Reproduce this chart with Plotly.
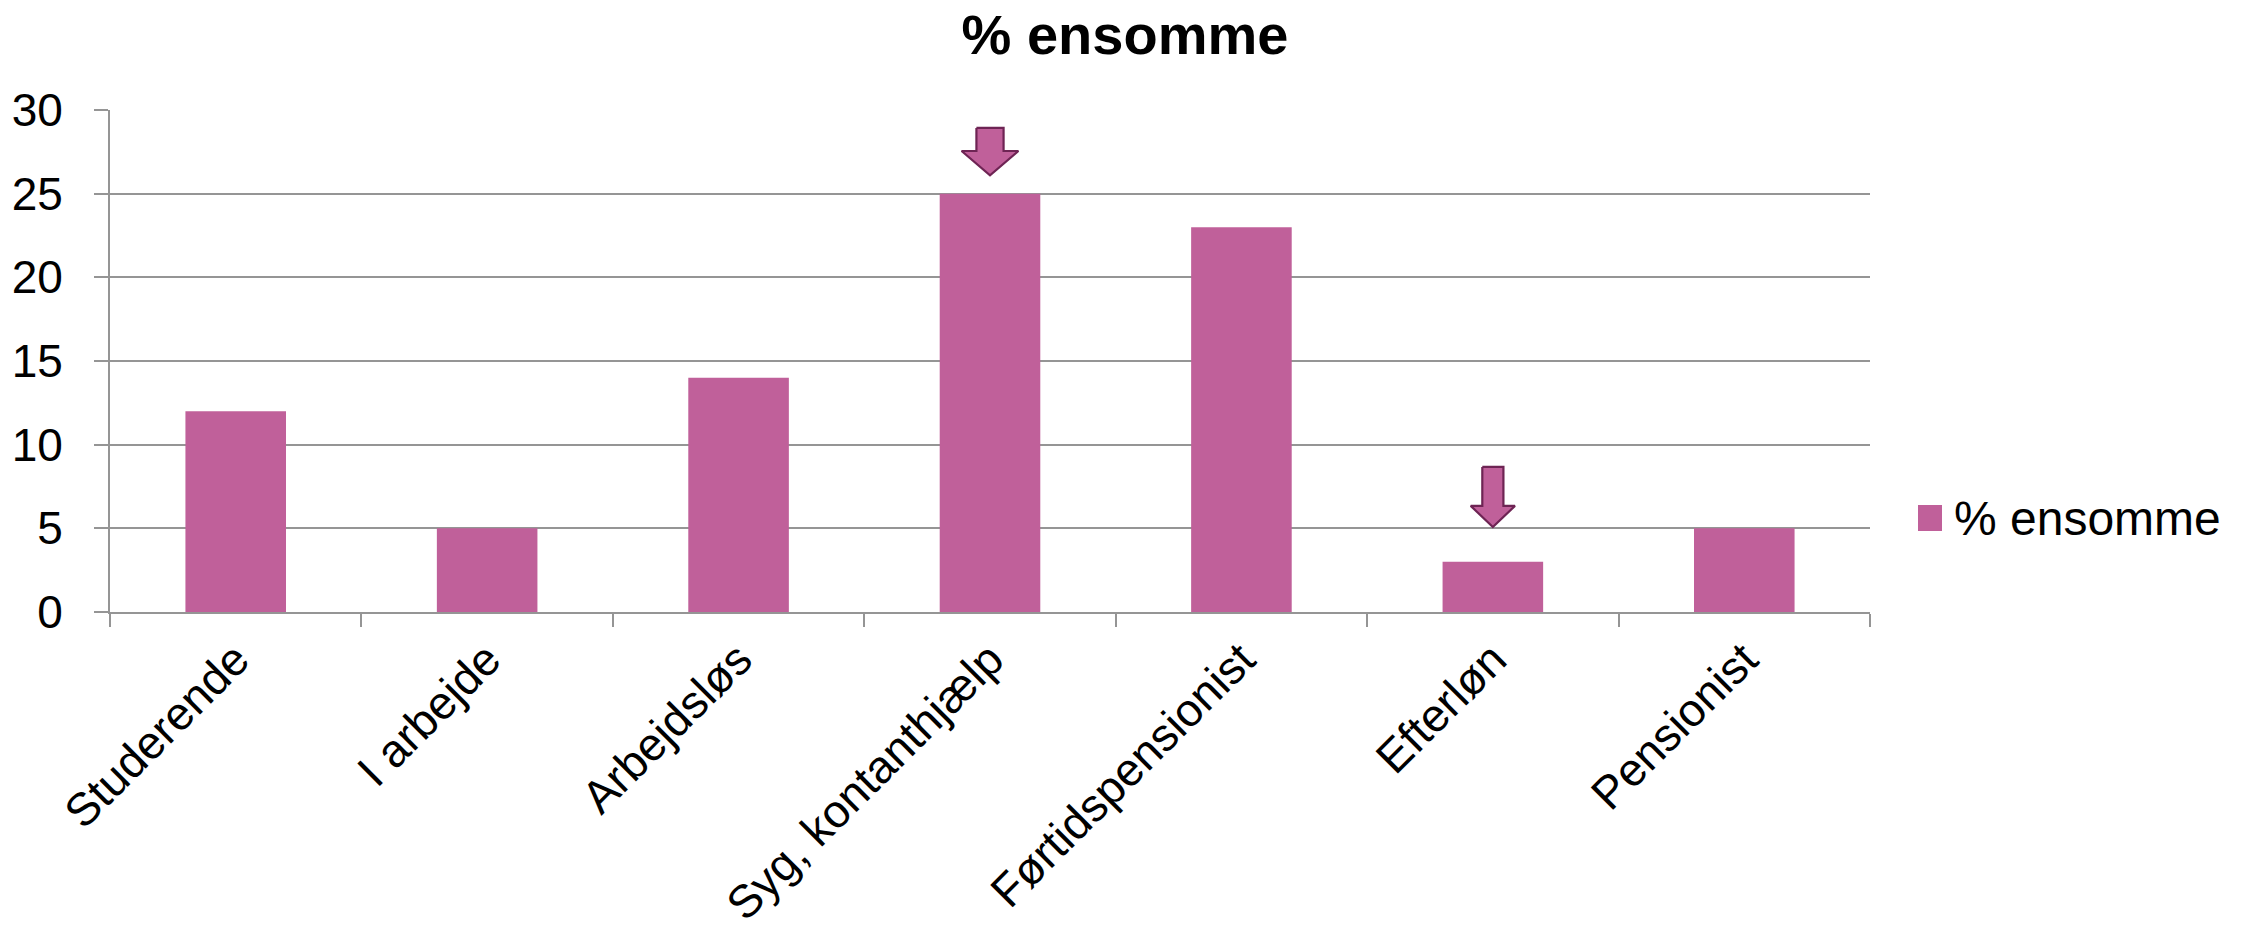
import plotly.graph_objects as go

# Share of respondents who feel lonely, by occupational status
categories = ["Studerende", "I arbejde", "Arbejdsløs", "Syg, kontanthjælp",
              "Førtidspensionist", "Efterløn", "Pensionist"]
pct_lonely = [12, 5, 14, 25, 23, 3, 5]
series_name = "% ensomme"
y_ticks = [0, 5, 10, 15, 20, 25, 30]

# Highlight arrows: category index, tip value, head-base value, top value,
# shaft half-width and head half-width (in category units)
arrows = [
    dict(idx=3, tip=26.1, base=27.55, top=28.93, shaft=0.054, head=0.113),
    dict(idx=5, tip=5.08, base=6.34, top=8.67, shaft=0.042, head=0.088),
]

BAR_COLOR = "#C0609A"
ARROW_EDGE = "#6E2454"
GRID = "#959595"
FONT = "Liberation Sans, Arial, sans-serif"

fig = go.Figure()
fig.add_trace(go.Bar(
    x=categories, y=pct_lonely, name=series_name,
    marker=dict(color=BAR_COLOR, line=dict(width=0)),
    showlegend=False, hoverinfo="x+y",
))

# Arrows drawn on an overlaid linear x-axis matching the category positions
for a in arrows:
    c = a["idx"]
    xs = [c - a["shaft"], c + a["shaft"], c + a["shaft"], c + a["head"], c,
          c - a["head"], c - a["shaft"], c - a["shaft"]]
    ys = [a["top"], a["top"], a["base"], a["base"], a["tip"],
          a["base"], a["base"], a["top"]]
    fig.add_trace(go.Scatter(
        x=xs, y=ys, xaxis="x2", yaxis="y", mode="lines", fill="toself",
        fillcolor=BAR_COLOR, line=dict(color=ARROW_EDGE, width=2.2),
        showlegend=False, hoverinfo="skip",
    ))

# Legend: swatch and label
fig.add_shape(type="rect", xref="paper", yref="paper",
              x0=(1918 - 110) / 1760, x1=(1942 - 110) / 1760,
              y0=(612 - 531) / 502, y1=(612 - 505) / 502,
              fillcolor=BAR_COLOR, line=dict(width=0))
fig.add_annotation(text=series_name, xref="paper", yref="paper",
                   x=(1952 - 110) / 1760, y=(612 - 518) / 502,
                   xanchor="left", yanchor="middle", showarrow=False,
                   font=dict(family=FONT, size=48, color="#000000"))

fig.update_layout(
    width=2250, height=938,
    margin=dict(l=110, r=380, t=110, b=326, autoexpand=False),
    paper_bgcolor="white", plot_bgcolor="white",
    bargap=0.6,
    font=dict(family=FONT, color="#000000"),
    title=dict(text="<b>% ensomme</b>", x=0.5, xref="container",
               y=1 - 34 / 938, yref="container", yanchor="middle",
               xanchor="center",
               font=dict(family=FONT, size=56, color="#000000")),
    xaxis=dict(
        type="category", tickangle=-45, tickson="boundaries",
        ticks="outside", ticklen=13, tickwidth=2, tickcolor=GRID,
        showline=True, linecolor=GRID, linewidth=2, automargin=False,
        showgrid=False, tickfont=dict(family=FONT, size=46),
        range=[-0.5, 6.5],
    ),
    xaxis2=dict(overlaying="x", range=[-0.5, 6.5], visible=False,
                showgrid=False, zeroline=False),
    yaxis=dict(
        range=[0, 30], tickvals=y_ticks, ticks="outside", ticklen=14,
        tickwidth=2, tickcolor=GRID, showline=True, linecolor=GRID,
        linewidth=2, showgrid=True, gridcolor=GRID, gridwidth=2,
        zeroline=False, tickfont=dict(family=FONT, size=46),
        ticklabelstandoff=22, automargin=False,
    ),
)

fig.write_html("out.html")
